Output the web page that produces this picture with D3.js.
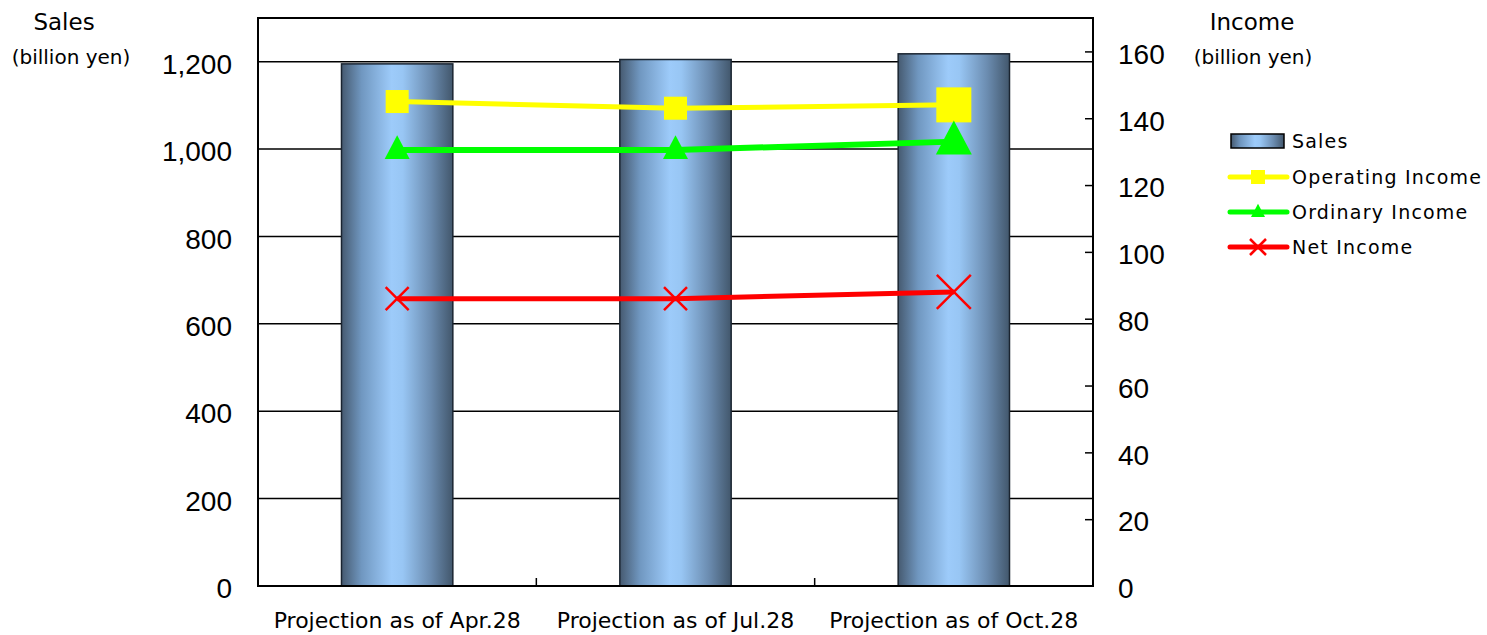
<!DOCTYPE html>
<html>
<head>
<meta charset="utf-8">
<script src="https://cdn.jsdelivr.net/npm/d3@7"></script>
<style>
  html, body { margin: 0; padding: 0; background: #fff; }
  svg { display: block; }
  text { font-family: "Liberation Sans", Arial, sans-serif; fill: #000; }
  .lbl { font-family: "DejaVu Sans", "Noto Sans", sans-serif; }
</style>
</head>
<body>
<svg id="chart" width="1487" height="635"></svg>
<script>
// Forecast revisions (billion yen)
const categories = ["Projection as of Apr.28", "Projection as of Jul.28", "Projection as of Oct.28"];
const sales = [1195, 1205, 1218];
const operatingIncome = [145, 143, 144];
const ordinaryIncome = [130.5, 130.5, 133];
const netIncome = [86, 86, 88];
const salesTicks = [0, 200, 400, 600, 800, 1000, 1200];
const incomeTicks = [0, 20, 40, 60, 80, 100, 120, 140, 160];

const svg = d3.select("#chart");
const plot = { left: 258, right: 1093, top: 18, bottom: 586 };

const x = d3.scaleBand().domain(categories).range([plot.left, plot.right])
  .paddingInner(0.6).paddingOuter(0.3);
const xc = d => x(d) + x.bandwidth() / 2;
const yL = d3.scaleLinear().domain([0, 1300]).range([plot.bottom, plot.top]);
const yR = d3.scaleLinear().domain([0, 170]).range([plot.bottom, plot.top]);

// Bar gradient: dark edges, light blue core
const defs = svg.append("defs");
const grad = defs.append("linearGradient").attr("id", "barGrad")
  .attr("x1", "0%").attr("x2", "100%").attr("y1", "0%").attr("y2", "0%");
[["0%", "#465a70"], ["18%", "#7097c0"], ["45%", "#9dcbfa"], ["55%", "#98c6f4"], ["80%", "#6b8cb0"], ["100%", "#42576c"]]
  .forEach(([o, c]) => grad.append("stop").attr("offset", o).attr("stop-color", c));

// Horizontal grid lines from the sales axis
svg.append("g").selectAll("line").data(salesTicks.filter(t => t > 0)).join("line")
  .attr("x1", plot.left).attr("x2", plot.right)
  .attr("y1", d => yL(d)).attr("y2", d => yL(d))
  .attr("stroke", "#000").attr("stroke-width", 1.5);

// Category separators along the bottom edge
svg.append("g").selectAll("line").data(categories.slice(1)).join("line")
  .attr("x1", d => x(d) - x.step() * x.paddingInner() / 2)
  .attr("x2", d => x(d) - x.step() * x.paddingInner() / 2)
  .attr("y1", plot.bottom).attr("y2", plot.bottom - 8)
  .attr("stroke", "#000").attr("stroke-width", 1.5);

// Sales bars
svg.append("g").selectAll("rect").data(sales).join("rect")
  .attr("x", (d, i) => x(categories[i]))
  .attr("width", x.bandwidth())
  .attr("y", d => yL(d))
  .attr("height", d => yL(0) - yL(d))
  .attr("fill", "url(#barGrad)")
  .attr("stroke", "#1a2430").attr("stroke-width", 1.5);

// Plot frame
svg.append("rect")
  .attr("x", plot.left).attr("y", plot.top)
  .attr("width", plot.right - plot.left).attr("height", plot.bottom - plot.top)
  .attr("fill", "none").attr("stroke", "#000").attr("stroke-width", 2);

// Left axis (sales)
const axL = svg.append("g").attr("transform", `translate(${plot.left},0)`)
  .call(d3.axisLeft(yL).tickValues(salesTicks).tickSize(0).tickPadding(26)
    .tickFormat(d3.format(",")));
axL.select(".domain").remove();
axL.selectAll("text").attr("font-size", 28).attr("dy", "0.42em")
  .style("font-family", "'Liberation Sans', Arial, sans-serif");

// Right axis (income) with inward ticks
const axR = svg.append("g").attr("transform", `translate(${plot.right},0)`)
  .call(d3.axisRight(yR).tickValues(incomeTicks).tickSize(0).tickPadding(25));
axR.select(".domain").remove();
axR.selectAll("text").attr("font-size", 28).attr("dy", "0.42em")
  .style("font-family", "'Liberation Sans', Arial, sans-serif");
axR.selectAll(".tick").filter(d => d > 0 && d < 170).append("line")
  .attr("x1", 0).attr("x2", -8).attr("stroke", "#000").attr("stroke-width", 1.5);

// Category labels
svg.append("g").selectAll("text").data(categories).join("text")
  .attr("class", "lbl")
  .attr("x", d => xc(d)).attr("y", 628)
  .attr("text-anchor", "middle").attr("font-size", 22)
  .text(d => d);

// Axis titles
svg.append("text").attr("x", 64).attr("y", 30).attr("text-anchor", "middle")
  .attr("font-size", 23).attr("class", "lbl").text("Sales");
svg.append("text").attr("x", 71).attr("y", 64).attr("text-anchor", "middle")
  .attr("font-size", 20).attr("class", "lbl").text("(billion yen)");
svg.append("text").attr("x", 1252).attr("y", 30).attr("text-anchor", "middle")
  .attr("font-size", 23).attr("class", "lbl").text("Income");
svg.append("text").attr("x", 1253).attr("y", 64).attr("text-anchor", "middle")
  .attr("font-size", 20).attr("class", "lbl").text("(billion yen)");

// Income lines
const series = [
  { name: "Operating Income", values: operatingIncome, color: "#ffff00", width: 5, marker: "square" },
  { name: "Ordinary Income", values: ordinaryIncome, color: "#00ff00", width: 6, marker: "triangle" },
  { name: "Net Income", values: netIncome, color: "#ff0000", width: 5, marker: "cross" }
];
const line = d3.line().x(d => d[0]).y(d => d[1]);

function drawMarker(g, type, cx, cy, size, color) {
  if (type === "square") {
    g.append("rect").attr("x", cx - size / 2).attr("y", cy - size / 2)
      .attr("width", size).attr("height", size).attr("fill", color);
  } else if (type === "triangle") {
    const h = size * 0.95;
    g.append("path")
      .attr("d", `M${cx},${cy - h * 0.62}L${cx + size / 2},${cy + h * 0.38}L${cx - size / 2},${cy + h * 0.38}Z`)
      .attr("fill", color);
  } else {
    const r = size / 2;
    g.append("path")
      .attr("d", `M${cx - r},${cy - r}L${cx + r},${cy + r}M${cx - r},${cy + r}L${cx + r},${cy - r}`)
      .attr("stroke", color).attr("stroke-width", 2.5).attr("fill", "none");
  }
}

const sizes = { square: [23, 23, 35], triangle: [25, 25, 36], cross: [23, 23, 34] };
series.forEach(s => {
  const pts = s.values.map((v, i) => [xc(categories[i]), yR(v)]);
  const g = svg.append("g");
  g.append("path").attr("d", line(pts)).attr("fill", "none")
    .attr("stroke", s.color).attr("stroke-width", s.width);
  pts.forEach((p, i) => drawMarker(g, s.marker, p[0], p[1], sizes[s.marker][i], s.color));
});

// Legend
const leg = svg.append("g");
leg.append("rect").attr("x", 1231).attr("y", 134).attr("width", 53).attr("height", 14)
  .attr("fill", "url(#barGrad)").attr("stroke", "#000").attr("stroke-width", 1.5);
leg.append("text").attr("class", "lbl").attr("x", 1292).attr("y", 148)
  .attr("font-size", 19).attr("letter-spacing", 1.2).text("Sales");
series.forEach((s, i) => {
  const yy = 177 + i * 35;
  leg.append("line").attr("x1", 1230).attr("x2", 1287).attr("y1", yy).attr("y2", yy)
    .attr("stroke", s.color).attr("stroke-width", 5).attr("stroke-linecap", "round");
  drawMarker(leg, s.marker, 1258, yy, s.marker === "cross" ? 16 : 14, s.color);
  leg.append("text").attr("class", "lbl").attr("x", 1292).attr("y", yy + 7)
    .attr("font-size", 19).attr("letter-spacing", 1.2).text(s.name);
});
</script>
</body>
</html>
